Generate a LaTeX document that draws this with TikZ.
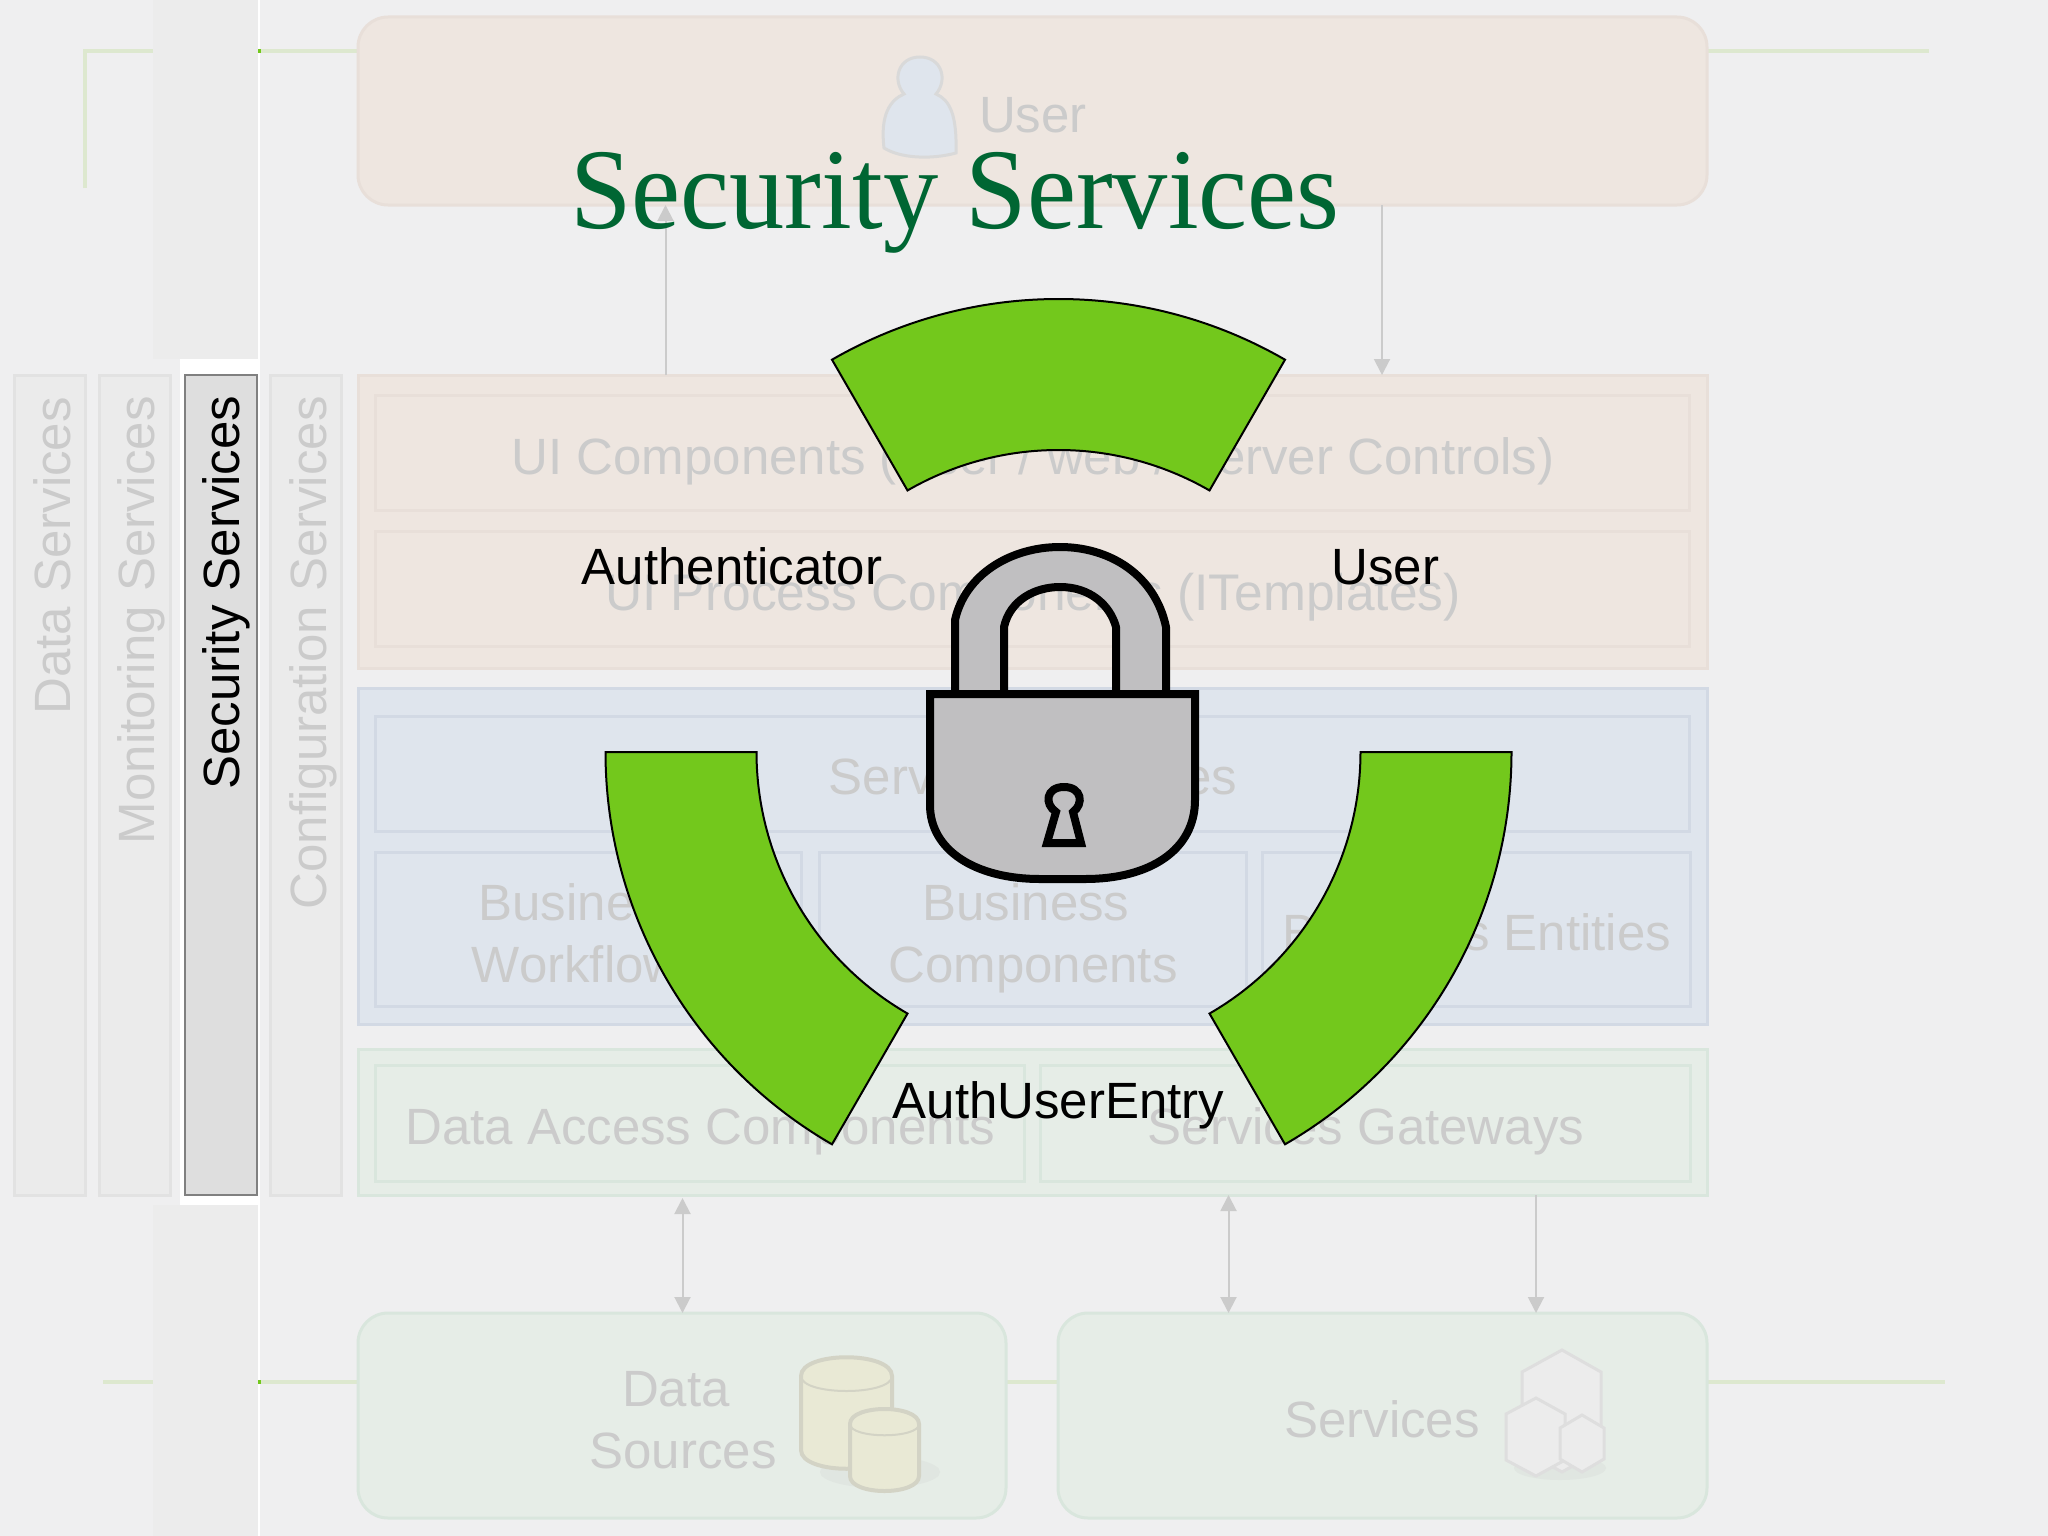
\documentclass[tikz,border=0pt]{standalone}
\usepackage{fontspec}
\usetikzlibrary{arrows.meta}
\setmainfont{Liberation Sans}
\newfontfamily\titlefont[FakeStretch=0.96]{Liberation Serif}

\definecolor{pagebg}{HTML}{EFEFF0}
\definecolor{bandbg}{HTML}{ECECEC}
\definecolor{fadeline}{HTML}{DDE8CF}
\definecolor{fadetext}{HTML}{CBCBCB}
\definecolor{roofill}{HTML}{EEE6E0}
\definecolor{rooline}{HTML}{E8DFD9}
\definecolor{blufill}{HTML}{DFE5ED}
\definecolor{bluline}{HTML}{D2D9E4}
\definecolor{grnfill}{HTML}{E6EDE7}
\definecolor{grnline}{HTML}{D9E6DD}
\definecolor{grnshade}{HTML}{E0E6E1}
\definecolor{barfill}{HTML}{EBEBEB}
\definecolor{barline}{HTML}{E2E2E2}
\definecolor{secfill}{HTML}{DEDEDE}
\definecolor{canfill}{HTML}{E9E9D5}
\definecolor{canline}{HTML}{D3D3C5}
\definecolor{ringgreen}{HTML}{73C81C}
\definecolor{lockgrey}{HTML}{C0BFC1}
\definecolor{titlegreen}{HTML}{006633}

\tikzset{
  box/.style={rectangle,draw,inner sep=0pt,outer sep=0pt,line width=3pt,anchor=north west},
  roundbox/.style={box,rounded corners=30pt},
  sidebar/.style={box,fill=barfill,draw=barline,minimum width=71pt,minimum height=820pt},
  fadelabel/.style={text=fadetext,font=\fontsize{51}{62}\selectfont,anchor=base,align=center,inner sep=0pt},
  sidelabel/.style={fadelabel,rotate=90,anchor=base east},
  blacklabel/.style={fadelabel,text=black},
  link/.style={draw=fadetext,line width=2pt},
  fadeguide/.style={draw=fadeline,line width=4pt},
  ringpart/.style={draw=black,fill=ringgreen,line width=2pt,line join=miter},
  lockpart/.style={draw=black,fill=lockgrey,line width=8pt,line join=round},
}

\begin{document}
\begin{tikzpicture}[x=1pt,y=-1pt,>={Triangle[length=16pt,width=16pt]}]
    \useasboundingbox (0,0) rectangle (2048,1536);
    \fill[pagebg] (0,0) rectangle (2048,1536);
    \fill[bandbg] (153,0) rectangle (258,359);
    \fill[bandbg] (153,1205) rectangle (258,1536);
    \fill[white] (180,359) rectangle (258,1205);
    \fill[white] (258,0) rectangle (260,1536);

    % faded green guides
    \draw[fadeguide] (85,188) -- (85,51) -- (153,51);
    \draw[fadeguide] (260,51) -- (358,51);
    \draw[fadeguide] (1707,51) -- (1929,51);
    \draw[fadeguide] (103,1382) -- (153,1382);
    \draw[fadeguide] (260,1382) -- (358,1382);
    \draw[fadeguide] (1006,1382) -- (1058,1382);
    \draw[fadeguide] (1707,1382) -- (1945,1382);
    \fill[ringgreen] (258,49) rectangle (261,53);
    \fill[ringgreen] (258,1380) rectangle (261,1384);

    % side bars
    \node[sidebar] (databar) at (14,375) {};
    \node[sidebar] (monitorbar) at (99,375) {};
    \node[sidebar,fill=secfill,draw=black!50,line width=2pt,minimum width=72pt] (securitybar) at (184.5,375) {};
    \node[sidebar] (configbar) at (270,375) {};
    \node[sidelabel] (datatext) at (70.5,397) {Data Services};
    \node[sidelabel] (monitortext) at (154.5,396) {Monitoring Services};
    \node[sidelabel,text=black] (securitytext) at (239.5,395.5) {Security Services};
    \node[sidelabel] (configtext) at (326.5,396) {Configuration Services};

    % layers
    \node[roundbox,fill=roofill,draw=rooline,minimum width=1349pt,minimum height=188pt] (userbox) at (358,17) {};
    \node[box,fill=roofill,draw=rooline,minimum width=1349pt,minimum height=293pt] (uilayer) at (358,375) {};
    \node[box,fill=roofill,draw=rooline,minimum width=1314pt,minimum height=115pt] (uicomp) at (375.5,395) {};
    \node[box,fill=roofill,draw=rooline,minimum width=1314pt,minimum height=115pt] (uiproc) at (375.5,531) {};
    \node[box,fill=blufill,draw=bluline,minimum width=1349pt,minimum height=336pt] (buslayer) at (358,688) {};
    \node[box,fill=blufill,draw=bluline,minimum width=1314pt,minimum height=115pt] (svcif) at (375.5,716) {};
    \node[box,fill=blufill,draw=bluline,minimum width=426pt,minimum height=154pt] (buswork) at (375.5,852) {};
    \node[box,fill=blufill,draw=bluline,minimum width=427pt,minimum height=154pt] (buscomp) at (819,852) {};
    \node[box,fill=blufill,draw=bluline,minimum width=428pt,minimum height=154pt] (busent) at (1262,852) {};
    \node[box,fill=grnfill,draw=grnline,minimum width=1349pt,minimum height=146pt] (datalayer) at (358,1049) {};
    \node[box,fill=grnfill,draw=grnline,minimum width=649pt,minimum height=116pt] (dataacc) at (375.5,1065) {};
    \node[box,fill=grnfill,draw=grnline,minimum width=650pt,minimum height=116pt] (svcgate) at (1040,1065) {};
    \node[roundbox,fill=grnfill,draw=grnline,minimum width=648pt,minimum height=205pt] (datasrc) at (358,1313) {};
    \node[roundbox,fill=grnfill,draw=grnline,minimum width=649pt,minimum height=205pt] (services) at (1058,1313) {};

    % faded icons
    \draw[draw=black!15,fill=blufill,line width=3pt] (884,148) .. controls (880,115) and (890,100) .. (904,94)
      .. controls (892,80) and (898,57) .. (920,57) .. controls (942,57) and (948,80) .. (936,94)
      .. controls (950,100) and (957,115) .. (956,153) .. controls (930,160) and (900,158) .. (884,148) -- cycle;
    \fill[grnshade] (880,1472) ellipse (60 and 16);
    \fill[grnshade] (1560,1468) ellipse (46 and 12);
    \draw[draw=canline,fill=canfill,line width=4pt] (801,1376) .. controls (801,1351) and (892,1351) .. (892,1376)
      -- (892,1450) .. controls (892,1475) and (801,1475) .. (801,1450) -- cycle;
    \draw[draw=canline,line width=2pt] (801,1376) .. controls (801,1396) and (892,1396) .. (892,1376);
    \draw[draw=canline,fill=canfill,line width=4pt] (850,1424) .. controls (850,1404) and (919,1404) .. (919,1424)
      -- (919,1476) .. controls (919,1496) and (850,1496) .. (850,1476) -- cycle;
    \draw[draw=canline,line width=2pt] (850,1424) .. controls (850,1439) and (919,1439) .. (919,1424);
    \draw[draw=black!13,fill=bandbg,line width=3pt] (1562,1350) -- (1601,1372) -- (1601,1450) -- (1562,1472) -- (1522,1450) -- (1522,1372) -- cycle;
    \draw[draw=black!13,fill=bandbg,line width=3pt] (1536,1398) -- (1565,1414) -- (1565,1460) -- (1536,1476) -- (1506,1460) -- (1506,1414) -- cycle;
    \draw[draw=black!13,fill=bandbg,line width=3pt] (1582,1415) -- (1604,1428) -- (1604,1459) -- (1582,1472) -- (1560,1459) -- (1560,1428) -- cycle;

    % faded texts
    \node[fadelabel] (usertext) at (1033,132) {User};
    \node[fadelabel] (uicomptext) at (1033,474) {UI Components (User / web / Server Controls)};
    \node[fadelabel,font=\fontsize{51.5}{62}\selectfont] (uiproctext) at (1033,610.5) {UI Process Components (ITemplates)};
    \node[fadelabel] (svciftext) at (1033,794) {Service Interfaces};
    \node[fadelabel] (busworktext) at (589,982) {Business\rule{14pt}{0pt}\\Workflows};
    \node[fadelabel] (buscomptext) at (1033,982) {Business\rule{14pt}{0pt}\\Components};
    \node[fadelabel] (busenttext) at (1477,950) {Business Entities};
    \node[fadelabel] (dataacctext) at (700,1144) {Data Access Components};
    \node[fadelabel] (svcgatetext) at (1366,1144) {Services Gateways};
    \node[fadelabel] (datasrctext) at (683,1468) {Data\rule{14pt}{0pt}\\Sources};
    \node[fadelabel] (servicestext) at (1382,1437) {Services};

    % connectors
    \coordinate (linka) at (665.5,0);
    \coordinate (linkb) at (1382,0);
    \coordinate (linkc) at (682.5,0);
    \coordinate (linkd) at (1228.5,0);
    \coordinate (linke) at (1536,0);
    \draw[link,->] (uilayer.north -| linka) -- (userbox.south -| linka);
    \draw[link,->] (userbox.south -| linkb) -- (uilayer.north -| linkb);
    \draw[link,<->,shorten <=3pt] (datalayer.south -| linkc) -- (datasrc.north -| linkc);
    \draw[link,<->] (datalayer.south -| linkd) -- (services.north -| linkd);
    \draw[link,->] (datalayer.south -| linke) -- (services.north -| linke);

    \node[text=titlegreen,font=\titlefont\fontsize{115}{126}\selectfont,anchor=base,inner sep=0pt] (title) at (955,228) {Security Services};

    % ring
    \coordinate (ringc) at (1058.5,752);
    \draw[ringpart] (ringc) ++(240:453) arc (240:300:453) -- ++(300:-151) arc (300:240:302) -- cycle;
    \draw[ringpart] (ringc) ++(0:453) arc (0:60:453) -- ++(60:-151) arc (60:0:302) -- cycle;
    \draw[ringpart] (ringc) ++(120:453) arc (120:180:453) -- ++(180:-151) arc (180:120:302) -- cycle;

    % lock
    \draw[lockpart] (955,694) -- (955,620) .. controls (965,575) and (1010,547) .. (1060,547)
      .. controls (1110,547) and (1155,575) .. (1166,627) -- (1166,694) -- (1116,694) -- (1116,627)
      .. controls (1110,605) and (1090,587) .. (1060,587) .. controls (1035,587) and (1010,600) .. (1004,627) -- (1004,694);
    \draw[lockpart,line join=miter] (930,694) -- (930,805) .. controls (930,850) and (975,879) .. (1040,879)
      -- (1085,879) .. controls (1150,879) and (1195,850) .. (1195,800) -- (1195,694) -- cycle;
    \draw[lockpart,line join=miter] (1047,843) -- (1056,812) .. controls (1044,804) and (1046,787) .. (1064,787)
      .. controls (1082,787) and (1084,804) .. (1073,812) -- (1081,843) -- cycle;

    % ring labels
    \node[blacklabel] (authtext) at (732,584) {Authenticator};
    \node[blacklabel] (ringuser) at (1385.5,584) {User};
    \node[blacklabel] (entrytext) at (1058.5,1118) {AuthUserEntry};
\end{tikzpicture}
\end{document}
